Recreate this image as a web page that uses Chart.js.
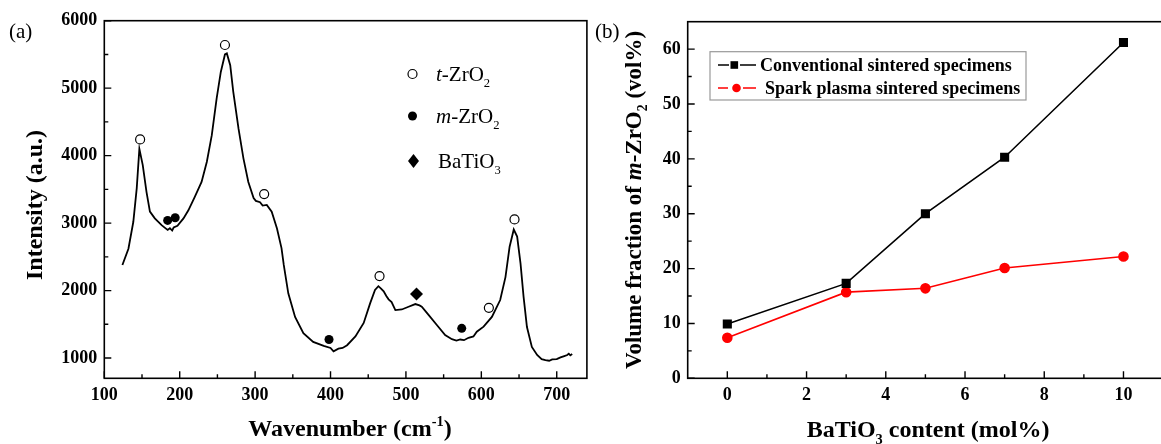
<!DOCTYPE html>
<html>
<head>
<meta charset="utf-8">
<script src="https://cdn.jsdelivr.net/npm/chart.js@4.4.0/dist/chart.umd.min.js"></script>
<style>
  body { margin: 0; background: #fff; width: 1161px; height: 444px; overflow: hidden; position: relative; }
  #boxA { position: absolute; left: 0; top: 0; }
  #boxB { position: absolute; left: 590px; top: 0; }
</style>
</head>
<body>
<div id="boxA"><canvas id="chartA" width="600" height="444"></canvas></div>
<div id="boxB"><canvas id="chartB" width="580" height="444"></canvas></div>
<script>
// ---- panel (a): Raman spectrum ----
const wavenumber = [124, 132, 138.5, 143, 146.5, 151, 156, 160.5, 167, 176, 180.5, 184, 187, 190, 192, 197, 205, 211.5, 220, 229, 236, 242.5, 249, 254.5, 260, 262.5, 267, 271, 278, 284.5, 291, 298, 301, 306.5, 310, 315.5, 322, 329, 335, 338, 344, 353, 364, 377, 391, 400, 404, 410.5, 416, 422, 433, 444, 452.5, 459, 463.5, 467, 470.5, 474, 477, 481, 486, 494.5, 503.5, 512.5, 518, 521, 530, 541, 552, 561, 567, 572, 577, 583, 589.5, 594, 603, 614, 625, 632, 637.5, 643, 647.5, 652, 656, 660.5, 667, 674, 680, 685, 690, 694, 700, 705, 710, 714, 716, 718, 720.5];
const intensity = [2380, 2620, 3020, 3515, 4100, 3860, 3460, 3170, 3070, 2970, 2930, 2900, 2925, 2890, 2935, 2960, 3070, 3190, 3390, 3610, 3910, 4300, 4850, 5240, 5500, 5515, 5340, 4950, 4400, 3960, 3610, 3370, 3330, 3310, 3260, 3270, 3170, 2920, 2630, 2380, 1960, 1610, 1370, 1240, 1180, 1150, 1100, 1140, 1150, 1190, 1320, 1520, 1810, 2010, 2065, 2030, 1990, 1920, 1870, 1830, 1710, 1720, 1760, 1800, 1780, 1760, 1640, 1490, 1340, 1280, 1260, 1275, 1265, 1300, 1320, 1390, 1465, 1610, 1860, 2200, 2650, 2905, 2800, 2400, 1910, 1460, 1165, 1045, 985, 970, 960, 980, 985, 1010, 1030, 1045, 1065, 1040, 1060];

const tPeakX = [147.5, 260, 312, 465, 610, 644];
const tPeakY = [4240, 5640, 3430, 2215, 1745, 3055];
const mPeakX = [184, 194, 398, 574];
const mPeakY = [3040, 3080, 1275, 1440];
const bPeakX = [514];
const bPeakY = [1950];

const xTicksA = [100, 200, 300, 400, 500, 600, 700];
const xMinorA = [150, 250, 350, 450, 550, 650];
const yTicksA = [1000, 2000, 3000, 4000, 5000, 6000];
const yMinorA = [1500, 2500, 3500, 4500, 5500];

// ---- panel (b): m-ZrO2 volume fraction ----
const batio3 = [0, 3, 5, 7, 10];
const conventional = [9.9, 17.3, 30.0, 40.3, 61.2];
const sparkPlasma = [7.4, 15.7, 16.4, 20.1, 22.2];

const xTicksB = [0, 2, 4, 6, 8, 10];
const xMinorB = [1, 3, 5, 7, 9];
const yTicksB = [0, 10, 20, 30, 40, 50, 60];
const yMinorB = [5, 15, 25, 35, 45, 55];

const SERIF = "'Liberation Serif', 'Times New Roman', serif";

function pts(xs, ys) {
    return xs.map((x, i) => ({ x: x, y: ys[i] }));
}

// draw text runs: [text, style] style = '' | 'i' | 'sub' | 'sup'
function drawRich(ctx, parts, x, y, size, weight, align) {
    const fontFor = (st) => {
        const s = (st === 'sub' || st === 'sup') ? size * 0.6 : size;
        return (st === 'i' ? 'italic ' : '') + weight + ' ' + s + 'px ' + SERIF;
    };
    let total = 0;
    parts.forEach(p => { ctx.font = fontFor(p[1]); total += ctx.measureText(p[0]).width; });
    let cx = align === 'center' ? x - total / 2 : x;
    ctx.textAlign = 'left';
    ctx.textBaseline = 'alphabetic';
    parts.forEach(p => {
        ctx.font = fontFor(p[1]);
        let dy = 0;
        if (p[1] === 'sub') dy = size * 0.28;
        if (p[1] === 'sup') dy = -size * 0.42;
        ctx.fillText(p[0], cx, y + dy);
        cx += ctx.measureText(p[0]).width;
    });
}

function frameTicks(xMajor, xMinor, yMajor, yMinor) {
    return {
        id: 'frameTicks',
        afterDraw(chart) {
            const ctx = chart.ctx, a = chart.chartArea;
            const sx = chart.scales.x, sy = chart.scales.y;
            ctx.save();
            ctx.strokeStyle = '#000';
            ctx.lineWidth = 1.6;
            ctx.strokeRect(a.left, a.top, a.right - a.left, a.bottom - a.top);
            ctx.lineWidth = 1.4;
            ctx.beginPath();
            xMajor.forEach(v => { const p = sx.getPixelForValue(v); ctx.moveTo(p, a.bottom); ctx.lineTo(p, a.bottom - 7); });
            xMinor.forEach(v => { const p = sx.getPixelForValue(v); ctx.moveTo(p, a.bottom); ctx.lineTo(p, a.bottom - 4); });
            yMajor.forEach(v => { const p = sy.getPixelForValue(v); ctx.moveTo(a.left, p); ctx.lineTo(a.left + 7, p); });
            yMinor.forEach(v => { const p = sy.getPixelForValue(v); ctx.moveTo(a.left, p); ctx.lineTo(a.left + 4, p); });
            ctx.stroke();
            ctx.restore();
        }
    };
}

const tickFont = { family: SERIF, size: 18, weight: 'bold' };

function axisOpts(min, max, ticks, fitKey, fitVal, pad) {
    return {
        type: 'linear', min: min, max: max,
        afterBuildTicks: s => { s.ticks = ticks.map(v => ({ value: v })); },
        afterFit: s => { s[fitKey] = fitVal; },
        grid: { display: false, drawTicks: false },
        border: { display: false },
        ticks: { font: tickFont, color: '#000', padding: pad, maxRotation: 0, autoSkip: false, callback: v => String(v) }
    };
}

// panel (a)
const legendA = {
    id: 'legendA',
    afterDraw(chart) {
        const ctx = chart.ctx;
        ctx.save();
        ctx.fillStyle = '#000';
        ctx.strokeStyle = '#000';
        ctx.lineWidth = 1.2;
        ctx.beginPath(); ctx.arc(412.5, 74, 4.5, 0, Math.PI * 2); ctx.fillStyle = '#fff'; ctx.fill(); ctx.stroke();
        ctx.fillStyle = '#000';
        ctx.beginPath(); ctx.arc(412.5, 116, 4.5, 0, Math.PI * 2); ctx.fill();
        ctx.beginPath(); ctx.moveTo(413.5, 154); ctx.lineTo(419, 161); ctx.lineTo(413.5, 168); ctx.lineTo(408, 161); ctx.closePath(); ctx.fill();
        drawRich(ctx, [['t', 'i'], ['-ZrO', ''], ['2', 'sub']], 436, 81, 21, 'normal', 'left');
        drawRich(ctx, [['m', 'i'], ['-ZrO', ''], ['2', 'sub']], 436, 123, 21, 'normal', 'left');
        drawRich(ctx, [['BaTiO', ''], ['3', 'sub']], 438, 168, 21, 'normal', 'left');
        // panel label and axis titles
        ctx.font = '21px ' + SERIF;
        ctx.fillText('(a)', 9, 38);
        drawRich(ctx, [['Wavenumber (cm', ''], ['-1', 'sup'], [')', '']], 350, 436, 24, 'bold', 'center');
        ctx.translate(42, 205);
        ctx.rotate(-Math.PI / 2);
        drawRich(ctx, [['Intensity (a.u.)', '']], 0, 0, 24, 'bold', 'center');
        ctx.restore();
    }
};

new Chart(document.getElementById('chartA'), {
    type: 'scatter',
    data: {
        datasets: [
            { data: pts(wavenumber, intensity), showLine: true, borderColor: '#000', borderWidth: 1.8, pointRadius: 0, order: 2 },
            { data: pts(tPeakX, tPeakY), pointStyle: 'circle', pointRadius: 4.5, backgroundColor: '#fff', borderColor: '#000', borderWidth: 1.2, order: 1 },
            { data: pts(mPeakX, mPeakY), pointStyle: 'circle', pointRadius: 4.5, backgroundColor: '#000', borderColor: '#000', borderWidth: 0, order: 1 },
            { data: pts(bPeakX, bPeakY), pointStyle: 'rectRot', pointRadius: 6.5, backgroundColor: '#000', borderColor: '#000', borderWidth: 0, order: 1 }
        ]
    },
    options: {
        responsive: false, animation: false, events: [],
        layout: { padding: { left: 0, top: 20.7, right: 13.1, bottom: 0 } },
        plugins: { legend: { display: false }, tooltip: { enabled: false } },
        scales: {
            x: axisOpts(100, 740, xTicksA, 'height', 65.7, 6),
            y: axisOpts(700, 6000, yTicksA, 'width', 104.3, 7)
        }
    },
    plugins: [frameTicks(xTicksA, xMinorA, yTicksA, yMinorA), legendA]
});

// panel (b)
const legendB = {
    id: 'legendB',
    afterDraw(chart) {
        const ctx = chart.ctx;
        const ox = 590;
        ctx.save();
        ctx.strokeStyle = '#999';
        ctx.lineWidth = 1.2;
        ctx.strokeRect(710 - ox, 51.7, 316, 48.3);
        ctx.lineWidth = 1.6;
        ctx.strokeStyle = '#000';
        ctx.beginPath(); ctx.moveTo(718 - ox, 65); ctx.lineTo(729 - ox, 65); ctx.moveTo(740 - ox, 65); ctx.lineTo(756 - ox, 65); ctx.stroke();
        ctx.fillStyle = '#000';
        ctx.fillRect(730.5 - ox, 61.2, 7.6, 7.6);
        ctx.strokeStyle = '#f00';
        ctx.beginPath(); ctx.moveTo(718 - ox, 88); ctx.lineTo(728 - ox, 88); ctx.moveTo(743 - ox, 88); ctx.lineTo(756 - ox, 88); ctx.stroke();
        ctx.fillStyle = '#f00';
        ctx.beginPath(); ctx.arc(736.5 - ox, 88, 4.3, 0, Math.PI * 2); ctx.fill();
        ctx.fillStyle = '#000';
        ctx.font = 'bold 18px ' + SERIF;
        ctx.textBaseline = 'alphabetic';
        ctx.fillText('Conventional sintered specimens', 760 - ox, 71);
        ctx.fillText('Spark plasma sintered specimens', 765 - ox, 94);
        ctx.font = '21px ' + SERIF;
        ctx.fillText('(b)', 595 - ox, 38);
        drawRich(ctx, [['BaTiO', ''], ['3', 'sub'], [' content (mol%)', '']], 928 - ox, 437, 24, 'bold', 'center');
        ctx.translate(641 - ox, 200);
        ctx.rotate(-Math.PI / 2);
        drawRich(ctx, [['Volume fraction of ', ''], ['m', 'i'], ['-ZrO', ''], ['2', 'sub'], [' (vol%)', '']], 0, 0, 23, 'bold', 'center');
        ctx.restore();
    }
};

new Chart(document.getElementById('chartB'), {
    type: 'scatter',
    data: {
        datasets: [
            { data: pts(batio3, conventional), showLine: true, borderColor: '#000', borderWidth: 1.6, pointStyle: 'rect', pointRadius: 5.3, backgroundColor: '#000' },
            { data: pts(batio3, sparkPlasma), showLine: true, borderColor: '#f00', borderWidth: 1.6, pointStyle: 'circle', pointRadius: 4.5, backgroundColor: '#f00' }
        ]
    },
    options: {
        responsive: false, animation: false, events: [],
        layout: { padding: { left: 0, top: 21.7, right: 2.3, bottom: 0 } },
        plugins: { legend: { display: false }, tooltip: { enabled: false } },
        scales: {
            x: axisOpts(-1, 11, xTicksB, 'height', 65.7, 6),
            y: axisOpts(0, 65, yTicksB, 'width', 97.7, 7)
        }
    },
    plugins: [frameTicks(xTicksB, xMinorB, yTicksB, yMinorB), legendB]
});
</script>
</body>
</html>
